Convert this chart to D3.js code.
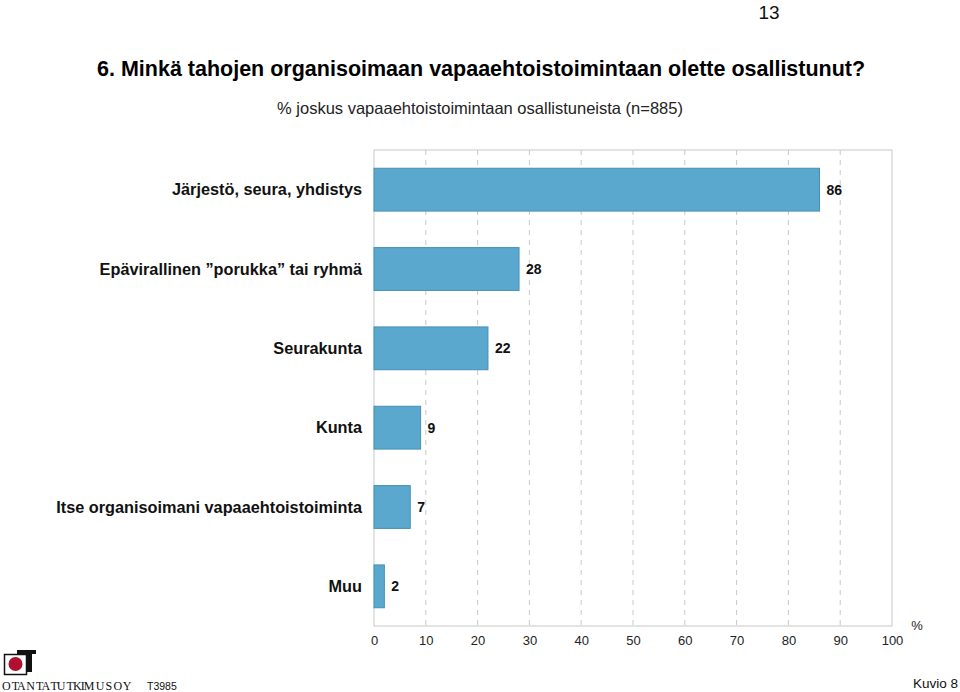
<!DOCTYPE html>
<html><head><meta charset="utf-8">
<script src="https://cdn.jsdelivr.net/npm/d3@7"></script>
<style>body{margin:0;background:#fff}svg{display:block}</style>
</head><body>
<script>
const categories = ["Järjestö, seura, yhdistys","Epävirallinen ”porukka” tai ryhmä","Seurakunta","Kunta","Itse organisoimani vapaaehtoistoiminta","Muu"];
const values = [86, 28, 22, 9, 7, 2];
const ticks = [0,10,20,30,40,50,60,70,80,90,100];

const W = 960, H = 692;
const svg = d3.select("body").append("svg").attr("width", W).attr("height", H);
const m = {left: 374, right: 892, top: 150, bottom: 626};
const SANS = "Liberation Sans, Arial, sans-serif";

const x = d3.scaleLinear().domain([0, 100]).range([m.left, m.right]);
const y = d3.scaleBand().domain(categories).range([m.top, m.bottom]).paddingInner(0.46).paddingOuter(0.23);

// grid
svg.append("g").selectAll("line").data(ticks.slice(1, -1)).join("line")
  .attr("x1", d => x(d)).attr("x2", d => x(d)).attr("y1", m.top).attr("y2", m.bottom)
  .attr("stroke", "#c8c8c8").attr("stroke-dasharray", "5,5");
svg.append("rect").attr("x", m.left).attr("y", m.top).attr("width", m.right - m.left).attr("height", m.bottom - m.top)
  .attr("fill", "none").attr("stroke", "#c8c8c8").attr("stroke-width", 1);

// axis
const ax = svg.append("g").attr("transform", `translate(0,${m.bottom})`)
  .call(d3.axisBottom(x).tickValues(ticks).tickSize(0).tickPadding(10));
ax.select(".domain").remove();
ax.selectAll("text").attr("font-family", SANS).attr("font-size", 13).attr("fill", "#222");

// bars
svg.append("g").selectAll("rect").data(values).join("rect")
  .attr("x", x(0)).attr("y", (d, i) => y(categories[i]))
  .attr("width", d => x(d) - x(0)).attr("height", y.bandwidth())
  .attr("fill", "#5aa8cd").attr("stroke", "#4691b7").attr("stroke-width", 1);

// value labels
svg.append("g").selectAll("text").data(values).join("text")
  .attr("x", d => x(d) + 7).attr("y", (d, i) => y(categories[i]) + y.bandwidth() / 2)
  .attr("dy", "0.35em").attr("font-family", SANS)
  .attr("font-size", 14).attr("font-weight", "bold").attr("fill", "#111").text(d => d);

// category labels
svg.append("g").selectAll("text").data(categories).join("text")
  .attr("x", 362).attr("y", d => y(d) + y.bandwidth() / 2).attr("dy", "0.35em")
  .attr("text-anchor", "end").attr("font-family", SANS)
  .attr("font-size", 16.3).attr("font-weight", "bold").attr("fill", "#111").text(d => d);

// titles
svg.append("text").attr("x", 97).attr("y", 76).attr("font-family", SANS)
  .attr("font-size", 21.5).attr("font-weight", "bold").attr("fill", "#000")
  .text("6. Minkä tahojen organisoimaan vapaaehtoistoimintaan olette osallistunut?");
svg.append("text").attr("x", 480).attr("y", 114).attr("text-anchor", "middle")
  .attr("font-family", SANS).attr("font-size", 16.5).attr("fill", "#222")
  .text("% joskus vapaaehtoistoimintaan osallistuneista (n=885)");

svg.append("text").attr("x", 917).attr("y", 630).attr("text-anchor", "middle")
  .attr("font-family", SANS).attr("font-size", 13).attr("fill", "#222").text("%");

// page number
svg.append("text").attr("x", 769).attr("y", 19).attr("text-anchor", "middle")
  .attr("font-family", SANS).attr("font-size", 19).attr("fill", "#111").text("13");

// footer logo
const lg = svg.append("g");
lg.append("rect").attr("x", 4.5).attr("y", 654.5).attr("width", 22).attr("height", 20).attr("fill", "#fff").attr("stroke", "#111").attr("stroke-width", 1.5);
lg.append("circle").attr("cx", 15.5).attr("cy", 664).attr("r", 7).attr("fill", "#b0102e");
lg.append("rect").attr("x", 17).attr("y", 650).attr("width", 19).attr("height", 4).attr("fill", "#111");
lg.append("rect").attr("x", 27).attr("y", 650).attr("width", 5).attr("height", 22).attr("fill", "#111");

svg.append("text").attr("x", 2).attr("y", 690).attr("font-family", "Liberation Serif, Times New Roman, serif")
  .attr("font-size", 12).attr("fill", "#111").attr("letter-spacing", -0.9)
  .text("O TA N TA TU TKIM U S  O Y");
svg.append("text").attr("x", 147).attr("y", 690).attr("font-family", SANS)
  .attr("font-size", 10.5).attr("fill", "#111").text("T3985");
svg.append("text").attr("x", 958).attr("y", 688).attr("text-anchor", "end").attr("font-family", SANS)
  .attr("font-size", 13.5).attr("fill", "#111").text("Kuvio 8");
</script>
</body></html>
